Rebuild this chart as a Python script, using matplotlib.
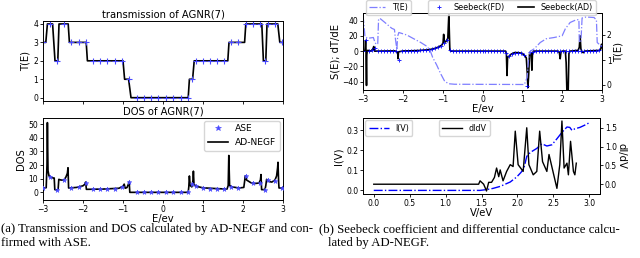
import numpy as np
import matplotlib.pyplot as plt

# =============================================================================
# 1. DADOS
# =============================================================================

# (a) transmissao AGNR(7) - AD-NEGF (vertices da curva em degraus)
E_trans = [-3.0, -2.93, -2.89, -2.76, -2.70, -2.63, -2.60, -2.37, -2.34, -1.92,
           -1.89, -1.00, -0.96, -0.86, -0.80, 0.63, 0.66, 0.74, 0.78, 1.62,
           1.65, 2.04, 2.07, 2.47, 2.51, 2.57, 2.60, 2.87, 2.92, 3.0]
T_trans = [3, 3, 4, 4, 2, 2, 4, 4, 3, 3,
           2, 2, 1, 1, 0, 0, 1, 1, 2, 2,
           3, 3, 4, 4, 2, 2, 4, 4, 3, 3]

# pontos ASE
E_ase = [-3.0, -2.816, -2.641, -2.465, -2.29, -2.106, -1.922, -1.747, -1.571, -1.388,
         -1.212, -1.028, -0.845, -0.661, -0.477, -0.302, -0.118, 0.074, 0.258, 0.442,
         0.634, 0.718, 0.818, 0.993, 1.177, 1.361, 1.536, 1.703, 1.887, 2.071,
         2.246, 2.43, 2.539, 2.614, 2.789, 2.973]
T_ase = [3, 4, 2, 4, 3, 3, 3, 2, 2, 2,
         2, 2, 1, 0, 0, 0, 0, 0, 0, 0,
         0, 1, 2, 2, 2, 2, 2, 3, 3, 4,
         4, 4, 2, 4, 4, 3]
DOS_ase = [3.2, 11, 1.8, 9, 3.5, 3.8, 7, 2.2, 2.3, 2.4,
           2.7, 4, 7.5, 0, 0, 0, 0, 0, 0, 0,
           0, 6, 5, 3.2, 2.8, 2.6, 2.4, 3.8, 3.1, 12,
           6.6, 7, 2, 9, 8.5, 3.2]

# DOS AD-NEGF
E_dos = [-3.0, -2.92, -2.90, -2.89, -2.875, -2.85, -2.80, -2.74, -2.72, -2.705,
         -2.64, -2.62, -2.605, -2.55, -2.48, -2.43, -2.39, -2.375, -2.36, -2.16,
         -2.0, -1.95, -1.935, -1.915, -1.5, -1.1, -1.0, -0.97, -0.945, -0.9,
         -0.865, -0.845, -0.83, 0.63, 0.645, 0.66, 0.68, 0.72, 0.75, 0.76,
         0.775, 0.82, 1.0, 1.3, 1.6, 1.63, 1.645, 1.665, 1.72, 1.9,
         2.02, 2.04, 2.055, 2.09, 2.2, 2.3, 2.4, 2.435, 2.45, 2.465,
         2.55, 2.57, 2.59, 2.64, 2.72, 2.8, 2.84, 2.865, 2.875, 2.89,
         2.90, 3.0]
DOS = [3.2, 3.4, 20, 51, 16, 12, 11, 10.5, 10.5, 2,
       1.7, 3, 9.5, 9, 9, 11, 14, 18, 3.2, 3.6,
       4.8, 6, 7.5, 2.2, 2.4, 3.0, 4.5, 6, 3, 3.5,
       6, 7.6, 0, 0, 4, 12, 5, 4, 9, 15.5,
       6, 4.5, 3.3, 2.8, 2.4, 5, 27, 5, 4, 3.2,
       3.6, 8, 12, 9, 7, 6.5, 6.8, 9, 13, 2,
       2, 5, 9.5, 8, 7.5, 9, 12, 18, 22, 8,
       3.2, 3.2]

# (b) Seebeck AD-NEGF
E_sb = [-3.0, -2.95, -2.935, -2.925, -2.912, -2.905, -2.895, -2.88, -2.8, -2.75,
        -2.73, -2.71, -2.6, -2.2, -2.13, -2.12, -2.11, -2.0, -1.8, -1.6,
        -1.4, -1.3, -1.2, -1.1, -1.02, -0.99, -0.975, -0.96, -0.93, -0.9,
        -0.87, -0.86, -0.845, -0.83, -0.82, -0.80, 0.58, 0.6, 0.615, 0.63,
        0.66, 0.72, 0.8, 0.9, 1.0, 1.06, 1.1, 1.125, 1.14, 1.16,
        1.18, 1.2, 1.22, 1.24, 1.255, 1.28, 1.9, 1.93, 1.95, 1.97,
        2.0, 2.08, 2.1, 2.12, 2.15, 2.17, 2.2, 2.4, 2.43, 2.45,
        2.47, 2.5, 2.53, 2.56, 2.95, 2.97, 2.99, 3.0]
S_ad = [0, 1, 14, 2, -45, -5, 0, 1, 0, 3,
        6, 0, 0, 0.3, -2, -10, -1, 0.2, 0.4, 0.8,
        1.6, 2.3, 3.5, 5.5, 8, 11, 22, 12, 12, 14,
        17, 30, 48, 20, 2, 0, 0, -3, -32, -8,
        -7, -4, -2, -2, -3, -6, -9, -30, -48, -30,
        -4, -1, -3, -25, -3, 0, 0, -2, -10, -1,
        0, 0, -15, -55, -55, -3, 0, 1, 5, 20,
        3, -1, -2, 0, 1, 3, 9, 5]

# Seebeck diferencas finitas (grade uniforme de energia)
S_fd = [0, 14, 0, 1, 4, 0, 0, 0, 0, 0,
        0, 0, -11, 0, 0.2, 0.3, 0.4, 0.5, 0.7, 0.9,
        1.2, 1.5, 2, 2.6, 3.5, 5, 7, 11, 14, 1,
        0, 0, 0, 0, 0, 0, 0, 0, 0, 0,
        0, 0, 0, 0, 0, 0, 0, 0, -3, -7,
        -3.5, -2, -2, -3, -5.5, -46, -1, -1, 0, 0,
        0, 0, 0, 0, 0, 0, 0, 0, 0, 0,
        0, 0, 0, 0, 0, 0, 0, 0, 0, 1,
        7]
E_fd = np.linspace(-3, 3, len(S_fd))

# T(E) suavizado (eixo direito)
E_ts = [-3.0, -2.97, -2.95, -2.87, -2.74, -2.70, -2.66, -2.63, -2.61, -2.58,
        -2.45, -2.28, -2.21, -2.19, -2.15, -2.13, -2.1, -1.9, -1.75, -1.55,
        -1.4, -1.32, -1.25, -1.15, -1.05, -0.95, -0.85, -0.7, 1.05, 1.12,
        1.16, 1.2, 1.3, 1.45, 1.6, 1.8, 2.0, 2.08, 2.2, 2.34,
        2.42, 2.43, 2.47, 2.5, 2.6, 2.8, 2.86, 2.88, 2.95, 3.0]
T_s = [2.8, 2.3, 1.92, 1.87, 1.9, 1.7, 1.62, 1.65, 2.6, 2.67,
       2.5, 2.27, 2.22, 1.9, 1.4, 1.95, 2.1, 2.0, 1.87, 1.7,
       1.55, 1.4, 1.1, 0.8, 0.45, 0.15, 0.05, 0.03, 0.02, 0.3,
       1.1, 1.35, 1.45, 1.7, 1.85, 1.9, 1.97, 2.25, 2.5, 2.6,
       2.62, 1.75, 1.7, 2.68, 2.72, 2.7, 2.6, 1.7, 1.6, 1.55]

# I(V) e dI/dV
V_I = [0.0, 1.48, 1.57, 1.66, 1.76, 1.9, 1.99, 2.05, 2.09, 2.13,
       2.18, 2.27, 2.34, 2.41, 2.48, 2.55, 2.62, 2.69, 2.73, 2.76,
       2.8, 2.87, 2.93, 3.0]
I_V = [0.0, 0.0, 0.004, 0.01, 0.02, 0.042, 0.067, 0.09, 0.11, 0.17,
       0.19, 0.21, 0.233, 0.222, 0.228, 0.258, 0.29, 0.317, 0.315, 0.30,
       0.308, 0.315, 0.325, 0.338]

V_d = [0.0, 1.46, 1.48, 1.53, 1.57, 1.6, 1.64, 1.68, 1.71, 1.74,
       1.76, 1.8, 1.85, 1.9, 1.94, 1.97, 2.01, 2.08, 2.13, 2.16,
       2.22, 2.27, 2.31, 2.35, 2.41, 2.44, 2.49, 2.55, 2.59, 2.62,
       2.65, 2.69, 2.71, 2.74, 2.78, 2.8, 2.82]
dIdV = [0.0, 0.0, 0.09, 0.0, -0.18, 0.05, 0.05, 0.18, 0.43, 0.2,
        0.38, 0.09, 0.34, 0.52, 0.47, 1.41, 0.52, 0.34, 1.5, 0.52,
        0.25, 0.34, 1.41, 0.6, 0.34, 0.79, 0.38, -0.11, 0.52, 1.68,
        0.43, 0.56, 0.25, 1.14, 0.34, 0.25, 0.56]

# =============================================================================
# 2. FIGURA
# =============================================================================

W, H = 640, 258
TICK = 5.5
LAB = 7.2
ASE_COR = "#4a4aff"


def eixo(l, t, r, b):
    # posicao em pixels -> fracao da figura
    return fig.add_axes([l / W, 1 - b / H, (r - l) / W, (b - t) / H])


def estilo(ax):
    ax.tick_params(labelsize=TICK, length=2.5, width=0.6, pad=1.0)
    for s in ax.spines.values():
        s.set_linewidth(0.7)


fig = plt.figure(figsize=(6.4, 2.58), dpi=100)

# ---- (a) transmissao
ax1 = eixo(43, 21, 283, 101)
ax1.plot(E_trans, T_trans, color="black", lw=1.2)
ax1.plot(E_ase, T_ase, "+", color=ASE_COR, ms=3.8, mew=0.8)
ax1.set_xlim(-3, 3)
ax1.set_ylim(-0.18, 4.16)
ax1.set_xticks([-3, -2, -1, 0, 1, 2, 3])
ax1.set_xticklabels([])
ax1.set_yticks([0, 1, 2, 3, 4])
ax1.set_ylabel("T(E)", fontsize=LAB, labelpad=2)
ax1.set_title("transmission of AGNR(7)", fontsize=LAB, pad=2.5)
estilo(ax1)

# ---- (a) DOS
ax2 = eixo(43, 118, 283, 200)
ax2.plot(E_ase, DOS_ase, "*", color=ASE_COR, ms=3.5, mew=0.4, label="ASE",
         zorder=3)
ax2.plot(E_dos, DOS, color="black", lw=1.2, label="AD-NEGF")
ax2.set_xlim(-3, 3)
ax2.set_ylim(-5.6, 54.4)
ax2.set_xticks([-3, -2, -1, 0, 1, 2, 3])
ax2.set_yticks([0, 10, 20, 30, 40, 50])
ax2.set_xlabel("E/ev", fontsize=LAB, labelpad=0)
ax2.set_ylabel("DOS", fontsize=LAB, labelpad=2)
ax2.set_title("DOS of AGNR(7)", fontsize=LAB, pad=2.5)
ax2.legend(fontsize=6.6, loc="upper right", handlelength=2.2, borderaxespad=0.3,
           markerscale=1.2)
estilo(ax2)

# ---- (b) Seebeck
ax3 = eixo(363, 13, 602, 90)
ax3.plot(E_fd, S_fd, "+", color="blue", ms=3.2, mew=0.7, label="Seebeck(FD)",
         zorder=3, alpha=0.85)
ax3.plot(E_sb, S_ad, color="black", lw=1.2, label="Seebeck(AD)")
ax3.set_xlim(-3, 3)
ax3.set_ylim(-51, 50)
ax3.set_xticks([-3, -2, -1, 0, 1, 2, 3])
ax3.set_yticks([-40, -20, 0, 20, 40])
ax3.set_xlabel("E/ev", fontsize=LAB, labelpad=0)
ax3.set_ylabel("S(E); dT/dE", fontsize=LAB, labelpad=1)
estilo(ax3)

ax3b = ax3.twinx()
ax3b.plot(E_ts, T_s, "-.", color="#7f7fff", lw=0.9, label="T(E)")
ax3b.set_ylim(-0.2, 2.88)
ax3b.set_yticks([0, 1, 2])
ax3b.set_ylabel("T(E)", fontsize=LAB, labelpad=1)
estilo(ax3b)

fig.legend(handles=ax3b.get_lines(), fontsize=5.8, loc="upper left",
           bbox_to_anchor=(366 / W, 1.0), borderaxespad=0)
h, l = ax3.get_legend_handles_labels()
fig.legend(h, l, fontsize=5.8, ncol=2, loc="upper right",
           bbox_to_anchor=(596 / W, 1.0), borderaxespad=0, columnspacing=1.6)

# ---- (b) I(V) e dIdV
ax4 = eixo(363, 118, 600, 194)
ax4.plot(V_I, I_V, "-.", color="blue", lw=1.0, label="I(V)")
ax4.set_xlim(-0.15, 3.15)
ax4.set_ylim(-0.018, 0.362)
ax4.set_xticks([0, 0.5, 1, 1.5, 2, 2.5, 3])
ax4.set_yticks([0, 0.1, 0.2, 0.3])
ax4.set_xlabel("V/eV", fontsize=LAB, labelpad=0)
ax4.set_ylabel("I(V)", fontsize=LAB, labelpad=2)
ax4.legend(fontsize=5.8, loc="upper left", borderaxespad=0.3, handlelength=2.5)
estilo(ax4)

ax4b = ax4.twinx()
ax4b.plot(V_d, dIdV, color="black", lw=1.0, label="dIdV")
ax4b.set_ylim(-0.26, 1.76)
ax4b.set_yticks([0, 0.5, 1.0, 1.5])
ax4b.set_ylabel("dI/dV", fontsize=LAB, rotation=270, labelpad=7)
ax4b.legend(fontsize=5.8, loc="upper left", bbox_to_anchor=(0.31, 1.0),
            borderaxespad=0.3, handlelength=2.5)
estilo(ax4b)

# =============================================================================
# 3. LEGENDAS DAS SUBFIGURAS
# =============================================================================

CAP = dict(family="Liberation Serif", fontsize=9.2, va="center", ha="left")
fig.text(1 / W, 1 - 229 / H,
         "(a) Transmission and DOS calculated by AD-NEGF and con-", **CAP)
fig.text(1 / W, 1 - 243 / H, "firmed with ASE.", **CAP)
fig.text(319 / W, 1 - 229 / H,
         "(b) Seebeck coefficient and differential conductance calcu-", **CAP)
fig.text(328 / W, 1 - 243 / H, "lated by AD-NEGF.", **CAP)

plt.savefig("out.png", dpi=100)
plt.close()
